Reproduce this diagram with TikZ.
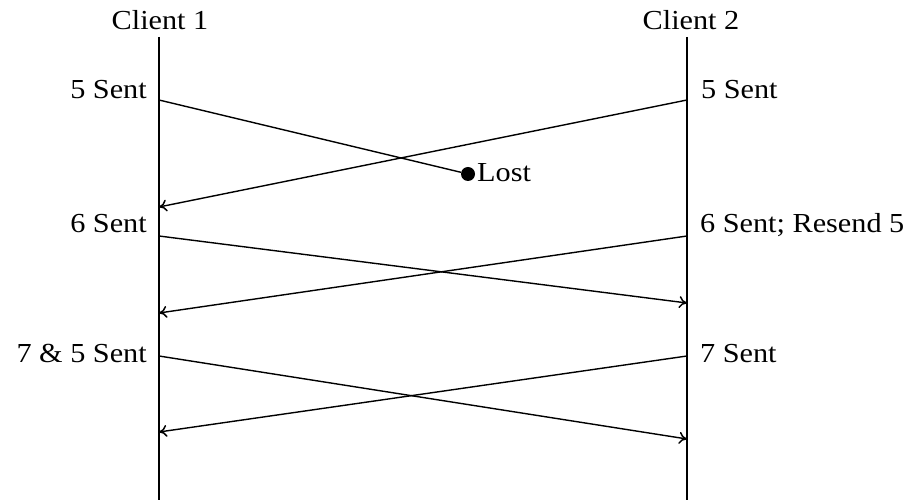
\documentclass[tikz,border=0pt]{standalone}
\usepackage{fontspec}
\setmainfont{Liberation Serif}[FakeStretch=1.1]
\usetikzlibrary{arrows.meta}
\begin{document}
\begin{tikzpicture}[x=1pt,y=-1pt,
  lbl/.style={inner sep=0pt,font=\fontsize{27.5}{30}\selectfont},
  lifeline/.style={line width=1.8pt},
  msg/.style={line width=1.4pt,-{To[length=8pt,width=12pt,line width=1.5pt]}},
  msgend/.style={line width=1.4pt}]
\useasboundingbox (0,0) rectangle (911,502);
% lifelines
\node[lbl,anchor=base] (c1) at (160,30) {Client 1};
\node[lbl,anchor=base] (c2) at (691,30) {Client 2};
\coordinate (l1top) at (159,37);
\coordinate (l1bot) at (159,500);
\coordinate (l2top) at (687,37);
\coordinate (l2bot) at (687,500);
\draw[lifeline] (l1top) -- (l1bot);
\draw[lifeline] (l2top) -- (l2bot);
% event points
\coordinate (a5) at (159,100);
\coordinate (b5) at (687,100);
\coordinate (a5in) at (159,207);
\coordinate (a6) at (159,236);
\coordinate (b6) at (687,236);
\coordinate (b6in) at (687,303);
\coordinate (a6in) at (159,313);
\coordinate (a7) at (159,356);
\coordinate (b7) at (687,356);
\coordinate (b7in) at (687,439);
\coordinate (a7in) at (159,432);
% labels
\node[lbl,anchor=base east] (ta5) at (147,99) {5 Sent};
\node[lbl,anchor=base west] (tb5) at (701,99) {5 Sent};
\node[lbl,anchor=base east] (ta6) at (147,233) {6 Sent};
\node[lbl,anchor=base west] (tb6) at (700,233) {6 Sent; Resend 5};
\node[lbl,anchor=base east] (ta7) at (147,363) {7 \& 5 Sent};
\node[lbl,anchor=base west] (tb7) at (700,363) {7 Sent};
% lost message
\node[circle,fill=black,inner sep=0pt,minimum size=14pt] (lost) at (468,174) {};
\node[lbl,anchor=base west] (tlost) at (477,182) {Lost};
% messages
\draw[msgend] (a5) -- (lost);
\draw[msg] (b5) -- (a5in);
\draw[msg] (a6) -- (b6in);
\draw[msg] (b6) -- (a6in);
\draw[msg] (a7) -- (b7in);
\draw[msg] (b7) -- (a7in);
\end{tikzpicture}
\end{document}
